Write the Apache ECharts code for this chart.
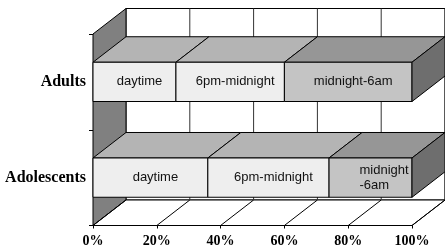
<!DOCTYPE html>
<html><head><meta charset="utf-8">
<script src="https://cdn.jsdelivr.net/npm/echarts@6/dist/echarts.min.js"></script>
<style>html,body{margin:0;padding:0;background:#fff}#c{width:445px;height:252px}</style>
</head><body><div id="c"></div>
<script>
const categories = ['Adults', 'Adolescents'];
const segmentNames = ['daytime', '6pm-midnight', 'midnight-6am'];
const adultsValues = [26, 34, 40];
const adolescentsValues = [36, 38, 26];
const xTickValues = [0, 20, 40, 60, 80, 100];

const seriesValues = [adultsValues, adolescentsValues];
const DX = 33, DY = -25.5;
const frontColors = ['#eeeeee', '#eeeeee', '#c4c4c4'];
const topColors = ['#b4b4b4', '#b4b4b4', '#969696'];
const sideColor = '#6e6e6e';

const barData = [];
seriesValues.forEach((vals, ci) => {
  let acc = 0;
  vals.forEach((v, si) => {
    barData.push([ci, acc, acc + v, si]);
    acc += v;
  });
});

function renderFrame(params, api) {
  const cs = params.coordSys;
  const L = cs.x, T = cs.y, R = cs.x + cs.width, B = cs.y + cs.height;
  const ch = [];
  ch.push({ type: 'rect', shape: { x: L + DX, y: T + DY, width: R - L, height: B - T }, style: { fill: '#fff', stroke: '#000', lineWidth: 1 } });
  ch.push({ type: 'polygon', shape: { points: [[L, T], [L + DX, T + DY], [L + DX, B + DY], [L, B]] }, style: { fill: '#808080', stroke: '#000', lineWidth: 1 } });
  ch.push({ type: 'polygon', shape: { points: [[L, B], [R, B], [R + DX, B + DY], [L + DX, B + DY]] }, style: { fill: '#fff', stroke: '#000', lineWidth: 1 } });
  xTickValues.forEach(v => {
    const x = api.coord([v, 0])[0];
    ch.push({ type: 'line', shape: { x1: x, y1: B, x2: x + DX, y2: B + DY }, style: { stroke: '#000', lineWidth: 1 } });
    if (v > 0) ch.push({ type: 'line', shape: { x1: x + DX, y1: T + DY, x2: x + DX, y2: B + DY }, style: { stroke: '#333', lineWidth: 1 } });
  });
  return { type: 'group', children: ch };
}

function renderBar(params, api) {
  const ci = api.value(0), x0v = api.value(1), x1v = api.value(2), si = api.value(3);
  const p0 = api.coord([x0v, ci]), p1 = api.coord([x1v, ci]);
  const h = api.size([0, 1])[1] * 0.41;
  const yT = p0[1] - h / 2, yB = p0[1] + h / 2;
  const xL = p0[0], xR = p1[0];
  const ch = [];
  ch.push({ type: 'polygon', shape: { points: [[xL, yT], [xR, yT], [xR + DX, yT + DY], [xL + DX, yT + DY]] }, style: { fill: topColors[si], stroke: '#000', lineWidth: 1 } });
  ch.push({ type: 'rect', shape: { x: xL, y: yT, width: xR - xL, height: yB - yT }, style: { fill: frontColors[si], stroke: '#000', lineWidth: 1 } });
  if (si === segmentNames.length - 1) {
    ch.push({ type: 'polygon', shape: { points: [[xR, yT], [xR + DX, yT + DY], [xR + DX, yB + DY], [xR, yB]] }, style: { fill: sideColor, stroke: '#000', lineWidth: 1 } });
  }
  let txt = segmentNames[si];
  let cx = (xL + xR) / 2 + 5;
  let align = 'center';
  if (xR - xL < 100 && txt.indexOf('-') > 0 && txt.length > 10) {
    const k = txt.indexOf('-');
    txt = txt.slice(0, k) + '\n' + txt.slice(k);
    cx = (xL + xR) / 2 - 11;
    align = 'left';
  }
  ch.push({ type: 'text', x: cx, y: p0[1], style: { text: txt, align: align, verticalAlign: 'middle', fontSize: 13, fontFamily: 'Liberation Sans', fill: '#111', lineHeight: 15 } });
  return { type: 'group', children: ch };
}

const chart = echarts.init(document.getElementById('c'));
chart.setOption({
  animation: false,
  grid: { left: 93, right: 33, top: 34, bottom: 26.5 },
  xAxis: {
    type: 'value', min: 0, max: 100, interval: 20,
    axisLine: { show: true, lineStyle: { color: '#000', width: 1 } },
    axisTick: { show: true, length: 3, lineStyle: { color: '#000' } },
    splitLine: { show: false },
    axisLabel: { formatter: '{value}%', fontFamily: 'Liberation Serif', fontWeight: 'bold', fontSize: 14, color: '#000', margin: 9 }
  },
  yAxis: {
    type: 'category', data: categories, inverse: true,
    axisLine: { show: true, lineStyle: { color: '#000', width: 1 } },
    axisTick: { show: true, length: 4, lineStyle: { color: '#000' } },
    axisLabel: { fontFamily: 'Liberation Serif', fontWeight: 'bold', fontSize: 16, color: '#000', margin: 7 }
  },
  series: [
    { type: 'custom', z: 1, renderItem: renderFrame, data: [[0]], encode: { x: 0 }, silent: true },
    { type: 'custom', z: 3, renderItem: renderBar, data: barData, encode: { x: [1, 2], y: 0 }, silent: true }
  ]
});
</script></body></html>
